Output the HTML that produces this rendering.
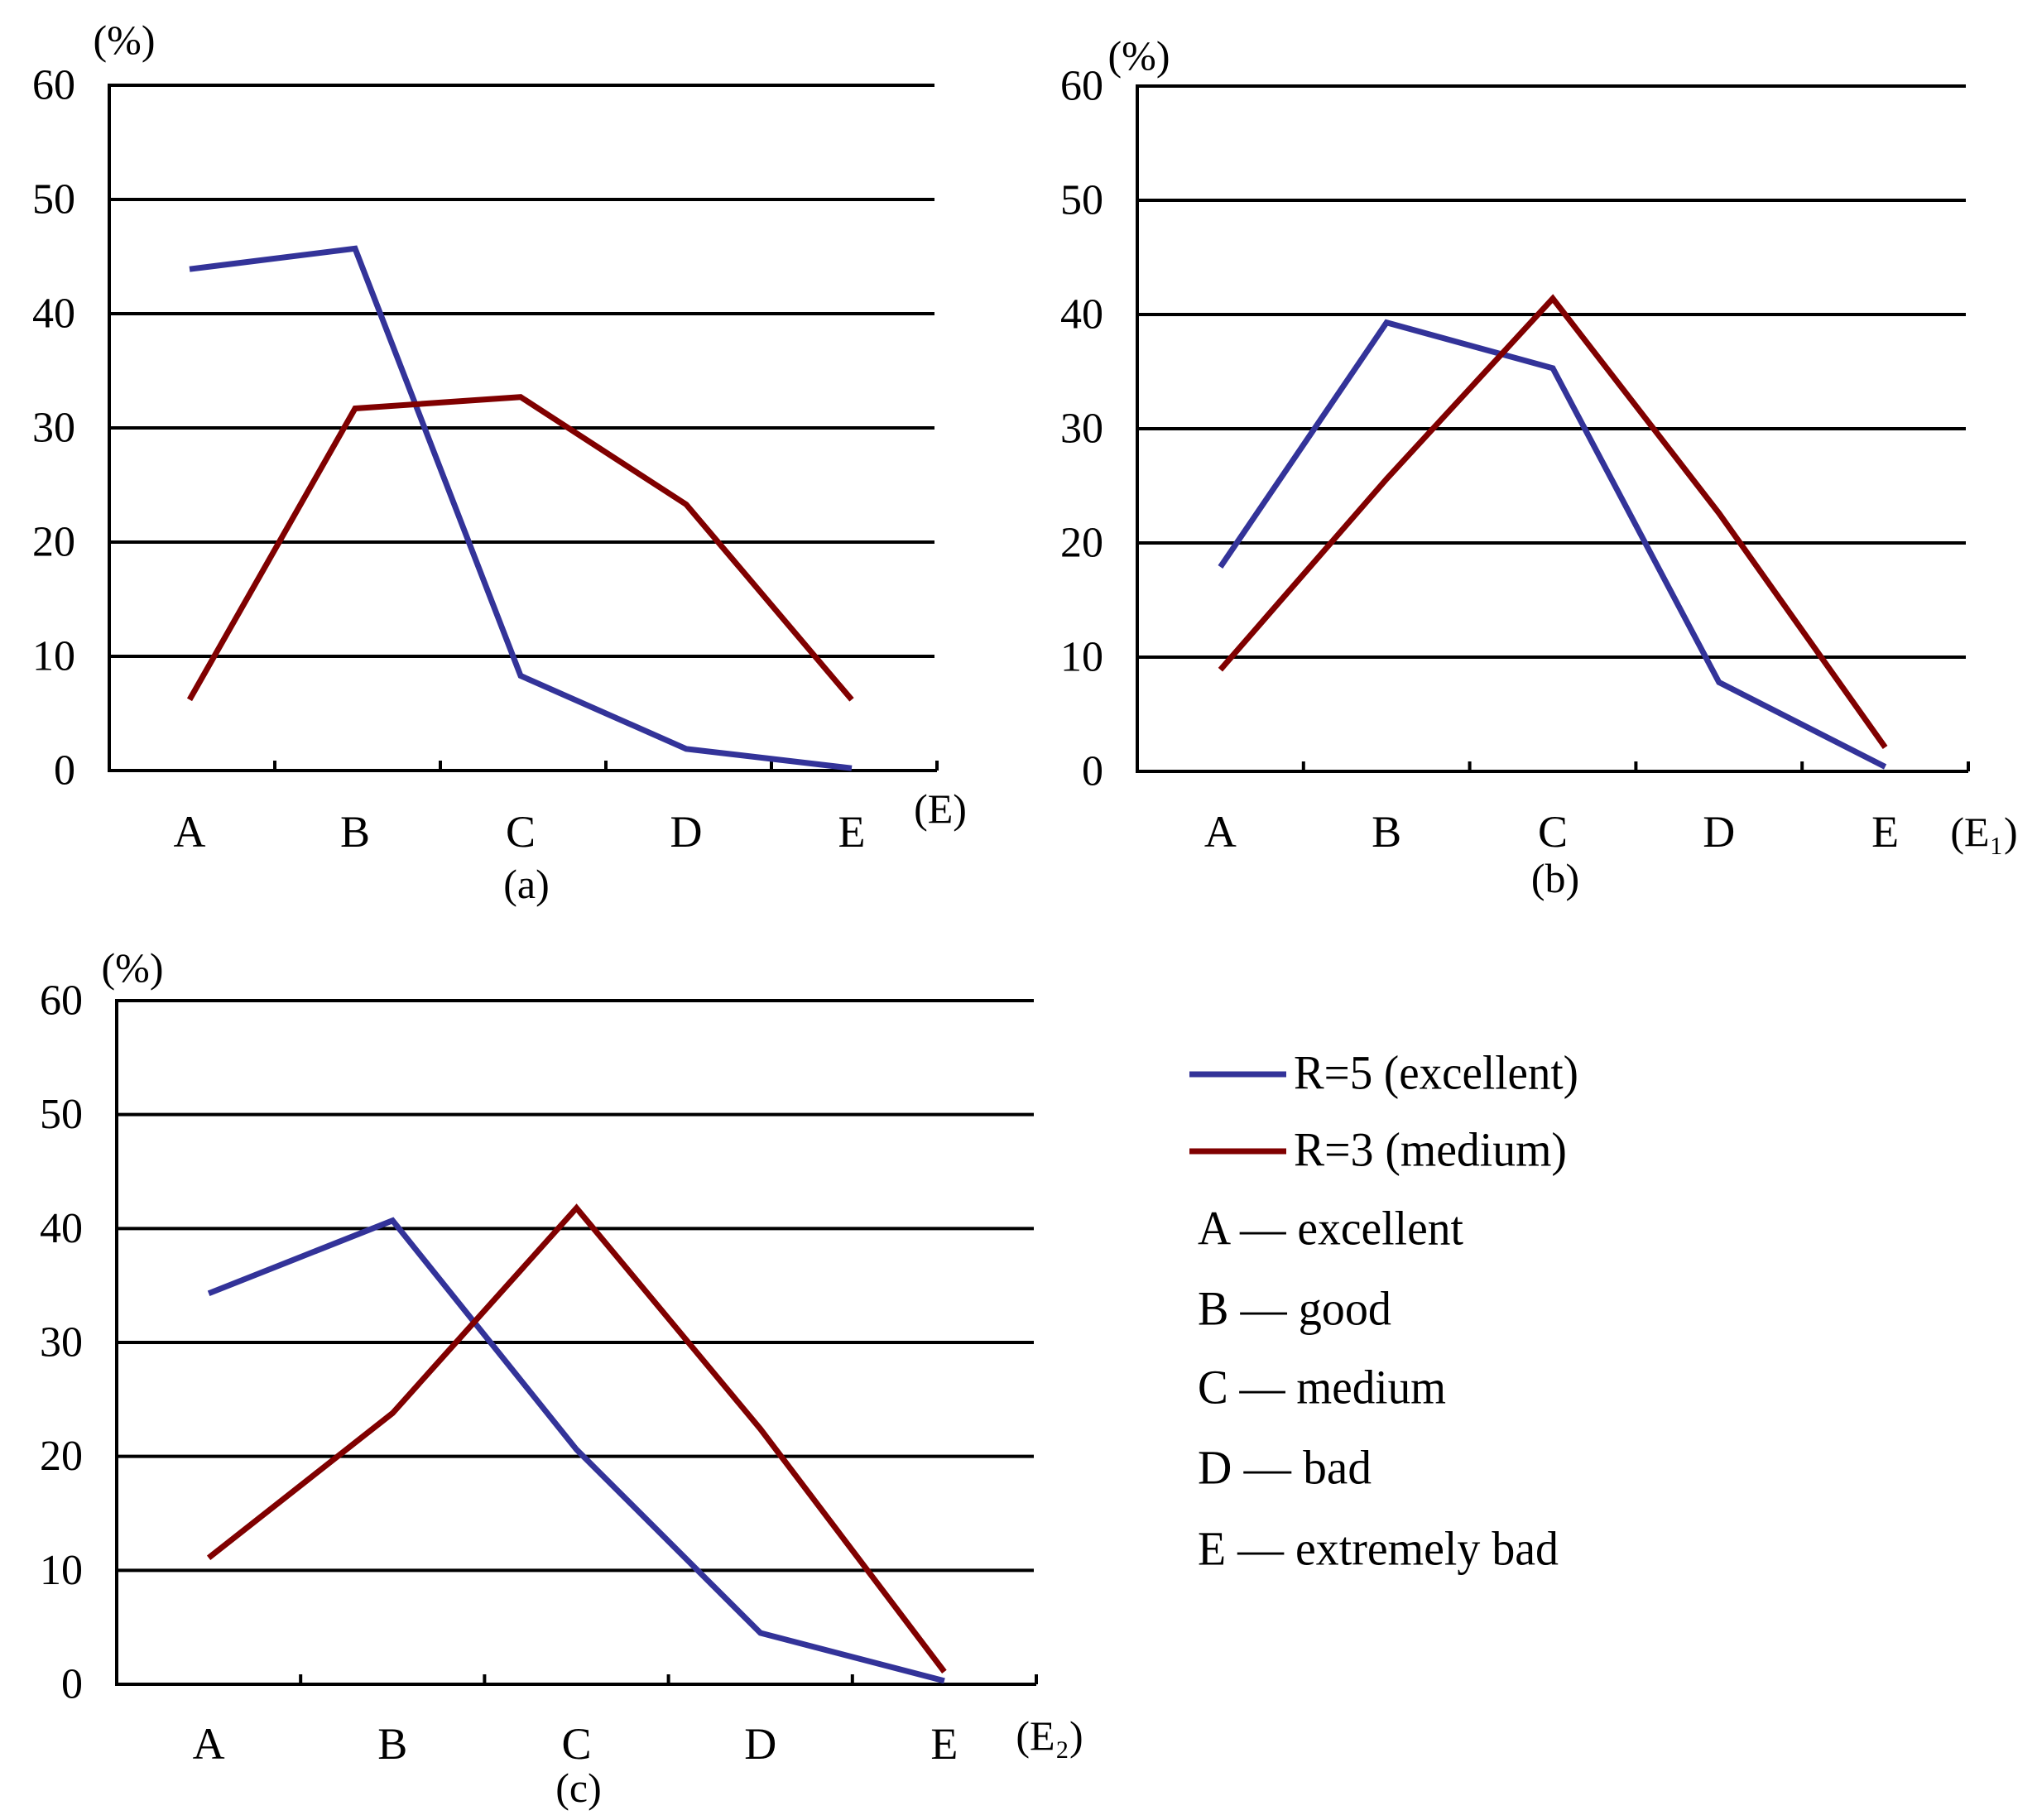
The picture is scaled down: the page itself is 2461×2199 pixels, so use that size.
<!DOCTYPE html>
<html><head><meta charset="utf-8"><style>
html,body{margin:0;padding:0;background:#fff;}
svg{display:block;}
text{font-family:"Liberation Serif",serif;fill:#000;}
</style></head><body>
<svg id="fig" width="2461" height="2199" viewBox="0 0 2461 2199" xmlns="http://www.w3.org/2000/svg">
<g>
  <line x1="1437" y1="1298" x2="1554" y2="1298" stroke="#333399" stroke-width="7"/>
  <text x="1563" y="1296" font-size="58" dominant-baseline="central" textLength="344" lengthAdjust="spacingAndGlyphs">R=5 (excellent)</text>
  <line x1="1437" y1="1391" x2="1554" y2="1391" stroke="#800000" stroke-width="7"/>
  <text x="1563" y="1389" font-size="58" dominant-baseline="central" textLength="330" lengthAdjust="spacingAndGlyphs">R=3 (medium)</text>
  <text x="1447" y="1484" font-size="58" dominant-baseline="central" textLength="321" lengthAdjust="spacingAndGlyphs">A — excellent</text>
  <text x="1447" y="1581" font-size="58" dominant-baseline="central" textLength="234" lengthAdjust="spacingAndGlyphs">B — good</text>
  <text x="1447" y="1676" font-size="58" dominant-baseline="central" textLength="300" lengthAdjust="spacingAndGlyphs">C — medium</text>
  <text x="1447" y="1773" font-size="58" dominant-baseline="central" textLength="210" lengthAdjust="spacingAndGlyphs">D — bad</text>
  <text x="1447" y="1871" font-size="58" dominant-baseline="central" textLength="436" lengthAdjust="spacingAndGlyphs">E — extremely bad</text>
</g>
</svg>
<script>
const categories = ["A","B","C","D","E"];
const yTicks = [0,10,20,30,40,50,60];
const yTickLabels = ["0","10","20","30","40","50","60"];
const aR5 = [43.9,45.7,8.3,1.9,0.2];
const aR3 = [6.2,31.7,32.7,23.3,6.2];
const bR5 = [17.9,39.3,35.3,7.8,0.4];
const bR3 = [8.9,25.6,41.4,22.6,2.1];
const cR5 = [34.3,40.7,20.6,4.5,0.3];
const cR3 = [11.1,23.8,41.8,22.4,1.1];

const NS = "http://www.w3.org/2000/svg";
const svg = document.getElementById('fig');
function mk(tag, attrs, parent){
  const e = document.createElementNS(NS, tag);
  for (const k in attrs) e.setAttribute(k, attrs[k]);
  parent.appendChild(e); return e;
}
const panels = [
  {id:'a', left:132, right:1132, top:103, zero:931, r5:aR5, r3:aR3, lblRight:91, pctX:150, pctY:48, xName:'(E)', xNameX:1136, xNameY:977, cap:'(a)', capX:636, capY:1068, catY:1005, catOff:-3},
  {id:'b', left:1374, right:2378, top:104, zero:932, r5:bR5, r3:bR3, lblRight:1333, pctX:1376, pctY:67, xName:'(E₁)', xNameX:2397, xNameY:1005, cap:'(b)', capX:1879, capY:1061, catY:1005, catOff:0},
  {id:'c', left:141, right:1252, top:1209, zero:2035, r5:cR5, r3:cR3, lblRight:100, pctX:160, pctY:1169, xName:'(E₂)', xNameX:1268, xNameY:2097, cap:'(c)', capX:699, capY:2160, catY:2107, catOff:0}
];
panels.forEach(p => {
  const g = mk('g', {}, svg);
  
  
  const w = p.right - p.left;
  const band = w / categories.length;
  const xs = i => p.left + (i + 0.5) * band + p.catOff;
  const ys = v => p.zero - (v / 60) * (p.zero - p.top);
  yTicks.forEach((t, i) => {
    if (t > 0) {
      const gl = mk('line', {x1:p.left, x2:p.right - 3, y1:ys(t), y2:ys(t), stroke:'#000', 'stroke-width':4}, g);
      
      
    }
    const tl = mk('text', {x:p.lblRight, y:ys(t), 'font-size':52, 'text-anchor':'end', 'dominant-baseline':'central'}, g);
    tl.textContent = yTickLabels[i];
    
    
  });
  const ya = mk('line', {x1:p.left, x2:p.left, y1:p.top - 2, y2:p.zero + 2, stroke:'#000', 'stroke-width':4}, g);
  
  
  const xa = mk('line', {x1:p.left, x2:p.right, y1:p.zero, y2:p.zero, stroke:'#000', 'stroke-width':4}, g);
  
  
  for (let i = 1; i <= categories.length; i++) {
    const tx = p.left + i * band;
    const tk = mk('line', {x1:tx, x2:tx, y1:p.zero, y2:p.zero - 12, stroke:'#000', 'stroke-width':4}, g);
    
    
  }
  categories.forEach((c, i) => {
    const t = mk('text', {x:xs(i), y:p.catY, 'font-size':54, 'text-anchor':'middle', 'dominant-baseline':'central'}, g);
    t.textContent = c;
    
    
  });
  [[p.r5, '#333399', 'series-r5'], [p.r3, '#800000', 'series-r3']].forEach(([vals, col, nm]) => {
    const pts = vals.map((v, i) => xs(i).toFixed(1) + ',' + ys(v).toFixed(1)).join(' ');
    const pl = mk('polyline', {points:pts, fill:'none', stroke:col, 'stroke-width':7, 'stroke-linejoin':'miter'}, g);
    
    
  });
  const pct = mk('text', {x:p.pctX, y:p.pctY, 'font-size':50, 'text-anchor':'middle', 'dominant-baseline':'central'}, g);
  pct.textContent = '(%)';
  
  
  const xn = mk('text', {x:p.xNameX, y:p.xNameY, 'font-size':50, 'text-anchor':'middle', 'dominant-baseline':'central'}, g);
  xn.textContent = p.xName;
  
  
  const cp = mk('text', {x:p.capX, y:p.capY, 'font-size':50, 'text-anchor':'middle', 'dominant-baseline':'central'}, g);
  cp.textContent = p.cap;
  
  
});
</script>
</body></html>
